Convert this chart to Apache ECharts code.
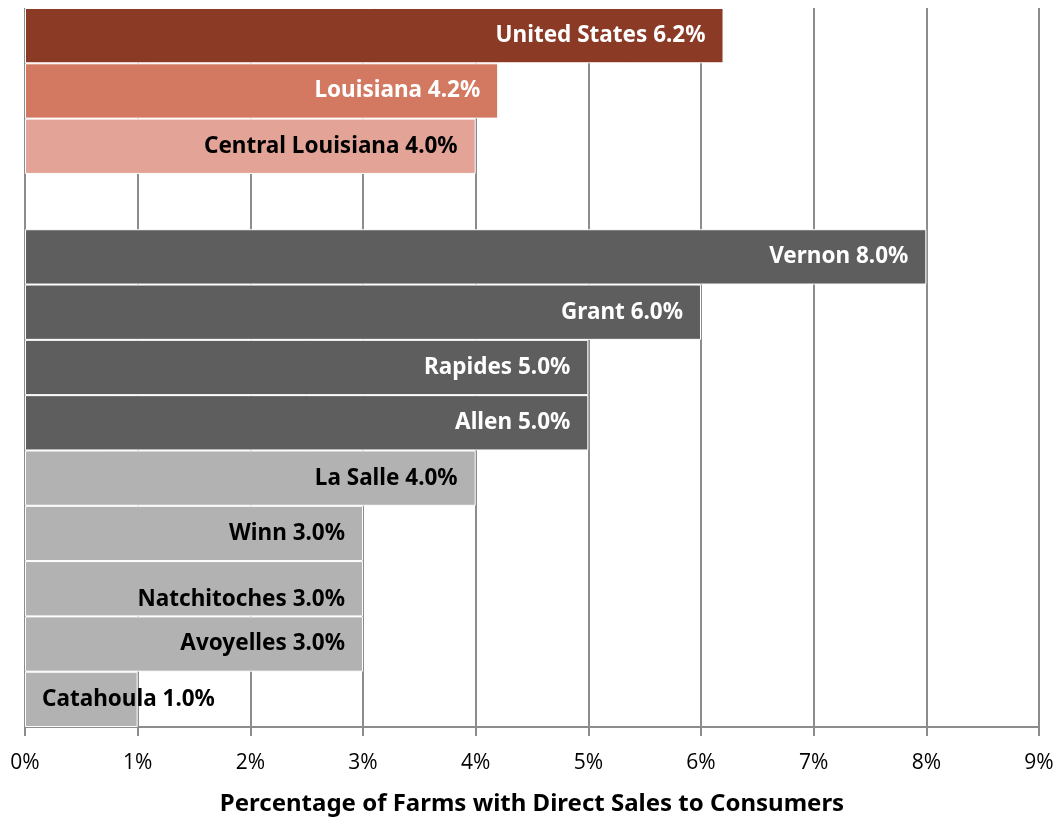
<!DOCTYPE html>
<html>
<head>
    <meta charset="utf-8">
    <title>Direct Sales to Consumers</title>
    <script src="https://cdn.jsdelivr.net/npm/echarts@6/dist/echarts.min.js"></script>
    <style>
        html, body { margin: 0; padding: 0; background: #fff; }
        #chart { width: 1058px; height: 818px; }
    </style>
</head>
<body>
    <div id="chart"></div>

    <script type="text/javascript">
        // data, top to bottom (blank row separates the summary bars from the parishes)
        var categories = ['United States', 'Louisiana', 'Central Louisiana', '',
            'Vernon', 'Grant', 'Rapides', 'Allen', 'La Salle', 'Winn',
            'Natchitoches', 'Avoyelles', 'Catahoula'];
        var values = [6.2, 4.2, 4.0, null, 8.0, 6.0, 5.0, 5.0, 4.0, 3.0, 3.0, 3.0, 1.0];
        var tickValues = [0, 1, 2, 3, 4, 5, 6, 7, 8, 9];

        // styles
        var barColors = ['#8B3A26', '#D47961', '#E3A497', '#ffffff',
            '#5E5E5E', '#5E5E5E', '#5E5E5E', '#5E5E5E',
            '#B2B2B2', '#B2B2B2', '#B2B2B2', '#B2B2B2', '#B2B2B2'];
        var textColors = ['#fff', '#fff', '#000', '#000',
            '#fff', '#fff', '#fff', '#fff',
            '#000', '#000', '#000', '#000', '#000'];

        var labelFont = 'Noto Sans';
        var seriesData = [];
        for (var i = 0; i < categories.length; i++) {
            var item = {
                value: values[i],
                itemStyle: { color: barColors[i] },
                label: { color: textColors[i] }
            };
            if (categories[i] == 'Catahoula') {
                item.label.position = 'insideLeft';
                item.label.distance = 17;
            }
            if (categories[i] == 'Natchitoches') {
                item.label.offset = [0, 11];
            }
            seriesData.push(item);
        }

        var myChart = echarts.init(document.getElementById('chart'));
        var option = {
            animation: false,
            grid: { left: 25, right: 19, top: 8, bottom: 91, containLabel: false, outerBoundsMode: 'none' },
            xAxis: {
                type: 'value',
                min: tickValues[0],
                max: tickValues[tickValues.length - 1],
                interval: 1,
                axisLine: { show: true, lineStyle: { color: '#8c8c8c', width: 2 } },
                axisTick: { show: true, length: 9, lineStyle: { color: '#8c8c8c', width: 2 } },
                axisLabel: {
                    formatter: '{value}%', color: '#000', fontSize: 21,
                    fontFamily: 'Open Sans', margin: 26
                },
                splitLine: { show: true, lineStyle: { color: '#8c8c8c', width: 2 } },
                name: 'Percentage of Farms with Direct Sales to Consumers',
                nameLocation: 'middle',
                nameGap: 65,
                nameTextStyle: { color: '#000', fontSize: 24, fontWeight: 'bold', fontFamily: labelFont }
            },
            yAxis: {
                type: 'category',
                data: categories,
                inverse: true,
                axisLine: { show: false },
                axisTick: { show: false },
                axisLabel: { show: false }
            },
            series: [{
                type: 'bar',
                data: seriesData,
                barCategoryGap: 0,
                itemStyle: { borderColor: '#ffffff', borderWidth: 1 },
                label: {
                    show: true,
                    position: 'insideRight',
                    distance: 18,
                    fontSize: 22.5,
                    fontWeight: 'bold',
                    fontFamily: labelFont,
                    formatter: function (p) {
                        return p.name + ' ' + p.value.toFixed(1) + '%';
                    }
                }
            }]
        };
        myChart.setOption(option);
    </script>
</body>
</html>
